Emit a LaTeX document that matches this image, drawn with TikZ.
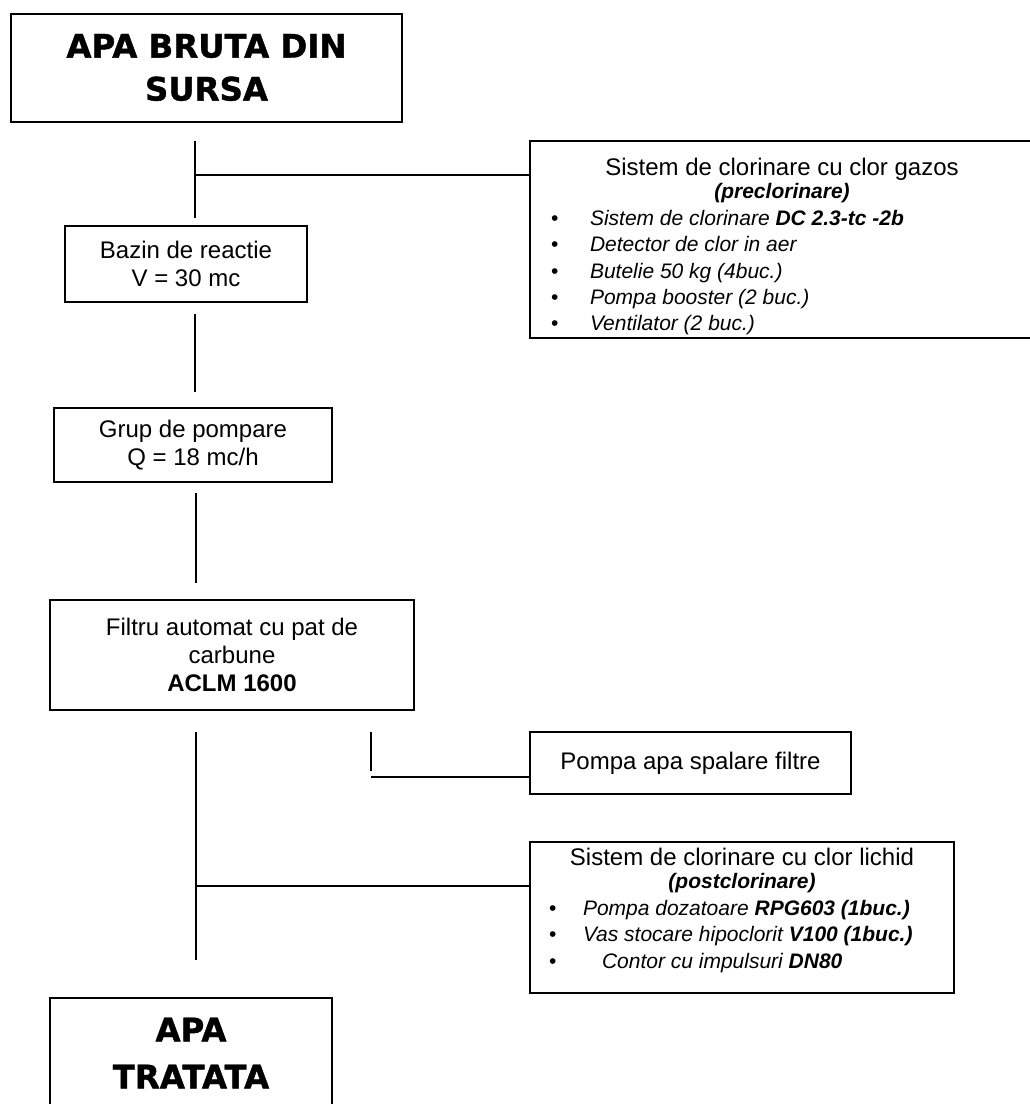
\documentclass[tikz,border=0pt]{standalone}
\usepackage{fontspec}
\setmainfont{Liberation Sans}
\newfontfamily\heavyfont[BoldFont = {DejaVu Sans Bold}, BoldFeatures = {FakeBold = 1.2}]{DejaVu Sans}

\newcommand{\chemitem}[3]{\par\noindent\hspace*{#1}\makebox[#2][l]{\textbullet}\textit{#3}}
\newcommand{\chemtitle}[2]{{\centering{\fontsize{12}{11.5}\selectfont #1}\\\textbf{\textit{#2}}\fontsize{10.5}{11.5}\selectfont\par}}

\tikzset{
	flowbox/.style = {draw, line width = 1pt, inner sep = 0pt, align = center,
		font = \fontsize{12}{14}\selectfont},
	endbox/.style = {draw, line width = 1pt, inner sep = 0pt, align = center,
		font = \heavyfont\bfseries\fontsize{16.2}{21.5}\selectfont},
	listbox/.style = {draw, line width = 1pt, inner sep = 0pt,
		font = \fontsize{10.5}{13.2}\selectfont},
	pipe/.style = {line width = 0.9pt}
}

\begin{document}
\begin{tikzpicture}[x = 0.5pt, y = -0.5pt]

	\useasboundingbox (0, 0) rectangle (1029, 1104);

	% Main treatment line

	\node [endbox, minimum width = 195.5pt, minimum height = 54pt] (sursa) at (206.5, 67.5) {APA BRUTA DIN\\SURSA};
	\node [flowbox, minimum width = 121pt, minimum height = 38pt] (reactie) at (186, 264) {Bazin de reactie\\V = 30 mc};
	\node [flowbox, minimum width = 139pt, minimum height = 37pt] (pompare) at (193, 445) {Grup de pompare\\Q = 18 mc/h};
	\node [flowbox, minimum width = 182pt, minimum height = 55pt] (filtru) at (232, 655) {Filtru automat cu pat de\\carbune\\\textbf{ACLM 1600}};
	\node [endbox, font = \heavyfont\bfseries\fontsize{16.2}{23.5}\selectfont, minimum width = 141pt, minimum height = 55pt] (tratata) at (191, 1053) {APA\\TRATATA};

	% Side units

	\node [listbox] (preclor) at (782, 239.5) {\parbox[c][98.5pt][t]{252pt}{%
		\vspace*{8.8pt}
		\chemtitle{Sistem de clorinare cu clor gazos}{(preclorinare)}
		\chemitem{10.5pt}{19.5pt}{Sistem de clorinare \textbf{DC 2.3-tc -2b}}
		\chemitem{10.5pt}{19.5pt}{Detector de clor in aer}
		\chemitem{10.5pt}{19.5pt}{Butelie 50 kg (4buc.)}
		\chemitem{10.5pt}{19.5pt}{Pompa booster (2 buc.)}
		\chemitem{10.5pt}{19.5pt}{Ventilator (2 buc.)}}};

	\node [flowbox, minimum width = 160.5pt, minimum height = 31pt] (spalare) at (690.5, 763) {Pompa apa spalare filtre};

	\node [listbox] (postclor) at (742, 917.5) {\parbox[c][75.5pt][t]{212pt}{%
		\vspace*{3.2pt}
		\chemtitle{Sistem de clorinare cu clor lichid}{(postclorinare)}
		\chemitem{9.5pt}{17pt}{Pompa dozatoare \textbf{RPG603 (1buc.)}}
		\chemitem{9.5pt}{17pt}{Vas stocare hipoclorit \textbf{V100 (1buc.)}}
		\chemitem{9.5pt}{26.5pt}{Contor cu impulsuri \textbf{DN80}}}};

	% Pipe segments

	\foreach \n/\x/\a/\b in {1/195/141/218, 2/195/314/392, 3/196/493/583, 4/196/732/960, 5/371/732/771}
	{
		\coordinate (t\n-top) at (\x, \a);
		\coordinate (t\n-bot) at (\x, \b);
		\draw [pipe] (t\n-top) -- (t\n-bot);
	}

	% Branches to side units

	\coordinate (gaz) at (195, 175);
	\coordinate (spal) at (371, 777);
	\coordinate (lichid) at (196, 886);

	\draw [pipe] (gaz) -- (gaz -| preclor.west);
	\draw [pipe] (spal) -- (spal -| spalare.west);
	\draw [pipe] (lichid) -- (lichid -| postclor.west);

\end{tikzpicture}
\end{document}
